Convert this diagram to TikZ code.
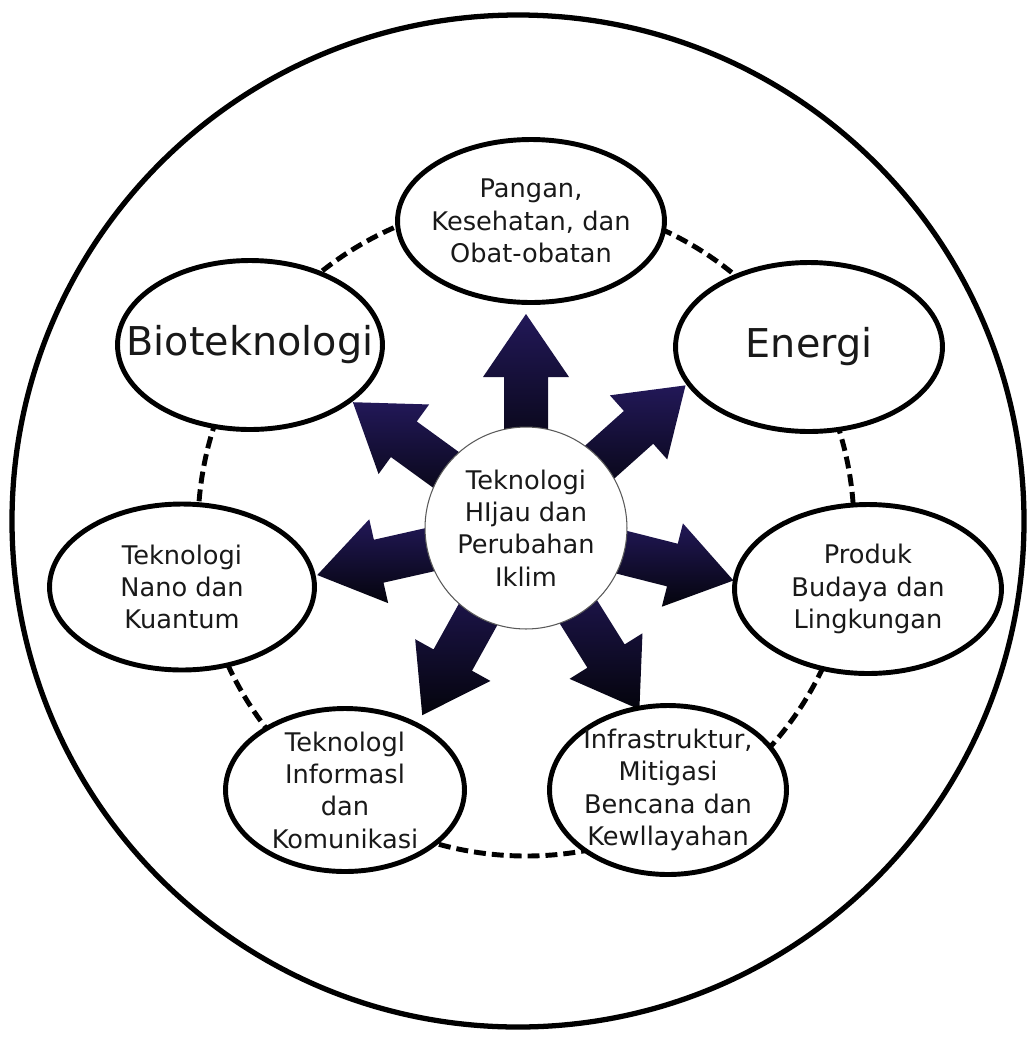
\documentclass[tikz,border=0pt]{standalone}
\usepackage{fontspec}
\setmainfont{DejaVu Sans}
\usetikzlibrary{shapes.geometric,calc}
\definecolor{arrownavy}{HTML}{221858}
\definecolor{arrowdark}{HTML}{04040C}
\tikzset{
  bubble/.style = {ellipse, draw=black, line width=2.8pt, fill=white, inner sep=0pt},
  bubbletext/.style = {align=center, inner sep=0pt, text=black!90, font=\fontsize{14.6}{18.4}\selectfont},
  bigtext/.style = {inner sep=0pt, text=black!90, font=\fontsize{22.6}{27}\selectfont},
  hub/.style = {circle, draw=black!65, line width=0.6pt, fill=white, minimum size=4.04cm, inner sep=0pt},
  ring/.style = {dash pattern=on 6.8pt off 3.4pt, line width=2.8pt},
  blockarrow/.style = {top color=arrownavy, bottom color=arrowdark, draw=none}
}
% one block arrow leaving the hub at angle #1 (picture y points down)
\newcommand{\spoke}[1]{%
  \path[blockarrow] ($(hubc)+(#1:60)+({#1+90}:22)$) -- ($(hubc)+(#1:151)+({#1+90}:22)$)
    -- ($(hubc)+(#1:151)+({#1+90}:43)$) -- ($(hubc)+(#1:214)$)
    -- ($(hubc)+(#1:151)+({#1-90}:43)$) -- ($(hubc)+(#1:151)+({#1-90}:22)$)
    -- ($(hubc)+(#1:60)+({#1-90}:22)$) -- cycle;}

\begin{document}
\begin{tikzpicture}[x=0.02cm, y=-0.02cm]
\useasboundingbox (0,0) rectangle (1034,1042);
\coordinate (hubc) at (526,528);
% outer frame and dashed ring
\draw[line width=3pt] (518,521) circle (506);
\draw[ring] (hubc) circle (328);
% arrows from the hub
\spoke{-90}
\spoke{-41.8}
\spoke{14.2}
\spoke{58}
\spoke{119}
\spoke{167.3}
\spoke{-144}
% fields
\node[bubble, minimum width=5.34cm, minimum height=3.26cm] (pangan) at (531,221) {};
\node[bubble, minimum width=5.3cm, minimum height=3.38cm] (bio) at (250,345) {};
\node[bubble, minimum width=5.34cm, minimum height=3.38cm] (energi) at (809,347) {};
\node[bubble, minimum width=5.3cm, minimum height=3.32cm] (nano) at (182,587) {};
\node[bubble, minimum width=5.34cm, minimum height=3.38cm] (produk) at (868,589) {};
\node[bubble, minimum width=4.78cm, minimum height=3.26cm] (tik) at (345,790) {};
\node[bubble, minimum width=4.74cm, minimum height=3.38cm] (infra) at (668,790) {};
\node[hub] (hub) at (hubc) {};
% texts
\node[bubbletext] (pangan-t) at (pangan) {Pangan,\\Kesehatan, dan\\Obat-obatan};
\node[bigtext] (bio-t) at (bio) {Bioteknologi};
\node[bigtext] (energi-t) at (energi) {Energi};
\node[bubbletext] (nano-t) at (nano) {Teknologi\\Nano dan\\Kuantum};
\node[bubbletext] (produk-t) at (produk) {Produk\\Budaya dan\\Lingkungan};
\node[bubbletext] (tik-t) at (tik) {Teknologl\\Informasl\\dan\\Komunikasi};
\node[bubbletext] (infra-t) at (infra) {Infrastruktur,\\Mitigasi\\Bencana dan\\Kewllayahan};
\node[bubbletext] (hub-t) at (hub) {Teknologi\\HIjau dan\\Perubahan\\Iklim};
\end{tikzpicture}
\end{document}
